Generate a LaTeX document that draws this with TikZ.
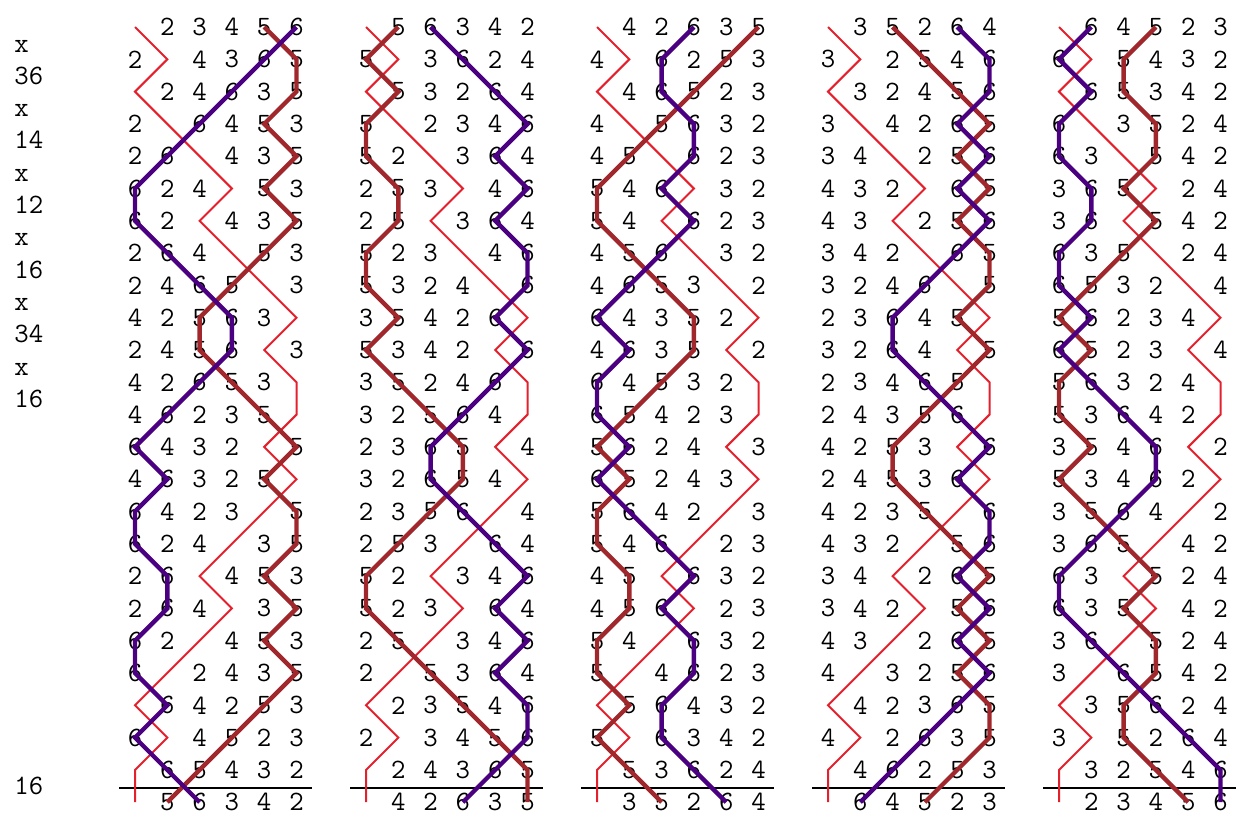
\documentclass[tikz,border=0pt]{standalone}
\usepackage{fontspec}
\definecolor{treblered}{RGB}{228,32,44}
\definecolor{fivebrown}{RGB}{160,40,45}
\definecolor{sixpurple}{RGB}{75,0,130}
% lead heads of the five leads
\newcommand{\leadmap}[1]{\ifcase#1 1,2,3,4,5,6\or 1,5,6,3,4,2\or 1,4,2,6,3,5\or 1,3,5,2,6,4\or 1,6,4,5,2,3\fi}
\tikzset{
  bellnum/.style={font=\ttfamily\fontsize{14}{16}\selectfont, inner sep=0pt},
  pnlabel/.style={font=\ttfamily\fontsize{14}{16}\selectfont, inner sep=0pt, anchor=base west},
  treble/.style={draw=treblered, line width=1pt},
  bellfive/.style={draw=fivebrown, line width=2.2pt},
  bellsix/.style={draw=sixpurple, line width=2.2pt},
  leadend/.style={draw=black, line width=1.1pt}
}
\begin{document}
\begin{tikzpicture}[x=0.5pt,y=-0.5pt]
\useasboundingbox (0,0) rectangle (1241,837);
% place notation
\foreach \pn [count=\i from 0] in {x,36,x,14,x,12,x,16,x,34,x,16}
  \node[pnlabel] (pn\i) at (14,52+32.3*\i) {\pn};
\node[pnlabel] (pnle) at (14,794.5) {16};
% leads
\foreach \k in {0,...,4} {
  \edef\curmap{\leadmap{\k}}
  \foreach \row [count=\r from 0] in {{1,2,3,4,5,6},{2,1,4,3,6,5},{1,2,4,6,3,5},{2,1,6,4,5,3},
      {2,6,1,4,3,5},{6,2,4,1,5,3},{6,2,1,4,3,5},{2,6,4,1,5,3},{2,4,6,5,1,3},{4,2,5,6,3,1},
      {2,4,5,6,1,3},{4,2,6,5,3,1},{4,6,2,3,5,1},{6,4,3,2,1,5},{4,6,3,2,5,1},{6,4,2,3,1,5},
      {6,2,4,1,3,5},{2,6,1,4,5,3},{2,6,4,1,3,5},{6,2,1,4,5,3},{6,1,2,4,3,5},{1,6,4,2,5,3},
      {6,1,4,5,2,3},{1,6,5,4,3,2},{1,5,6,3,4,2}} {
    \foreach \s [count=\p from 0] in \row {
      \pgfmathtruncatemacro\bell{{\curmap}[\s-1]}
      \ifnum\bell=1
        \coordinate (c\k-\r-\bell) at (135+231*\k+32.3*\p,27+32.3*\r);
      \else
        \node[bellnum] (c\k-\r-\bell) at (135+231*\k+32.3*\p,27+32.3*\r) {\bell};
      \fi
    }
  }
  \draw[leadend] (119+231*\k,788) -- (312+231*\k,788);
  \draw[treble] (c\k-0-1) \foreach \r in {1,...,24} {-- (c\k-\r-1)};
  \draw[bellfive] (c\k-0-5.center) \foreach \r in {1,...,24} {-- (c\k-\r-5.center)};
  \draw[bellsix] (c\k-0-6.center) \foreach \r in {1,...,24} {-- (c\k-\r-6.center)};
}
\end{tikzpicture}
\end{document}
